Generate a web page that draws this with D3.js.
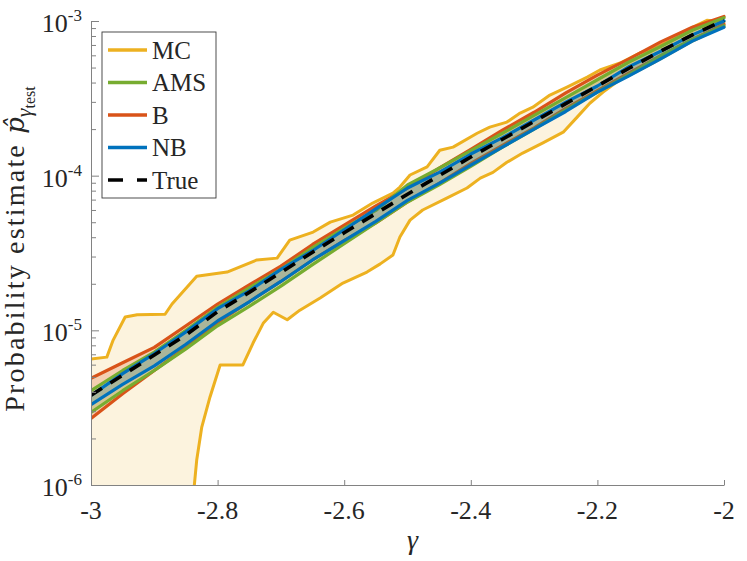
<!DOCTYPE html>
<html>
<head>
<meta charset="utf-8">
<script src="https://cdn.jsdelivr.net/npm/d3@7"></script>
<style>
body { margin: 0; background: #fff; }
</style>
</head>
<body>
<svg id="chart" width="747" height="561"></svg>
<script>
// gamma grid shared by the true curve and the AMS / B / NB bands
const gammaGrid = [-3.00, -2.95, -2.90, -2.85, -2.80, -2.75, -2.70, -2.65, -2.60, -2.55, -2.50,
                   -2.45, -2.40, -2.35, -2.30, -2.25, -2.20, -2.15, -2.10, -2.05, -2.00];

const trueP = [3.80e-6, 5.13e-6, 6.92e-6, 9.33e-6, 1.32e-5, 1.76e-5, 2.37e-5, 3.20e-5, 4.27e-5, 5.69e-5, 7.59e-5,
               1.00e-4, 1.32e-4, 1.72e-4, 2.24e-4, 2.92e-4, 3.80e-4, 4.95e-4, 6.38e-4, 8.13e-4, 1.01e-3];

const bUpper = [4.90e-6, 6.17e-6, 7.76e-6, 1.07e-5, 1.48e-5, 1.97e-5, 2.60e-5, 3.59e-5, 4.79e-5, 6.38e-5, 8.32e-5,
                1.12e-4, 1.48e-4, 1.97e-4, 2.57e-4, 3.43e-4, 4.47e-4, 5.69e-4, 7.33e-4, 9.12e-4, 1.07e-3];
const bLower = [2.69e-6, 3.89e-6, 5.50e-6, 7.76e-6, 1.12e-5, 1.53e-5, 2.07e-5, 2.85e-5, 3.80e-5, 4.95e-5, 6.76e-5,
                8.91e-5, 1.20e-4, 1.57e-4, 2.04e-4, 2.72e-4, 3.55e-4, 4.62e-4, 5.96e-4, 7.59e-4, 9.55e-4];

const amsUpper = [4.07e-6, 5.50e-6, 7.24e-6, 1.00e-5, 1.41e-5, 1.88e-5, 2.48e-5, 3.43e-5, 4.57e-5, 5.96e-5, 8.71e-5,
                  1.12e-4, 1.45e-4, 1.88e-4, 2.45e-4, 3.20e-4, 4.17e-4, 5.43e-4, 6.84e-4, 8.71e-4, 1.05e-3];
const amsLower = [2.95e-6, 4.07e-6, 5.50e-6, 7.59e-6, 1.07e-5, 1.43e-5, 1.93e-5, 2.66e-5, 3.63e-5, 4.95e-5, 6.76e-5,
                  8.71e-5, 1.15e-4, 1.53e-4, 2.00e-4, 2.66e-4, 3.47e-4, 4.52e-4, 5.96e-4, 7.59e-4, 9.33e-4];

const nbUpper = [3.80e-6, 5.25e-6, 7.08e-6, 9.77e-6, 1.38e-5, 1.80e-5, 2.48e-5, 3.27e-5, 4.47e-5, 6.10e-5, 8.32e-5,
                 1.05e-4, 1.38e-4, 1.76e-4, 2.29e-4, 2.99e-4, 3.80e-4, 5.07e-4, 6.38e-4, 8.13e-4, 1.00e-3];
const nbLower = [3.31e-6, 4.47e-6, 5.89e-6, 8.13e-6, 1.15e-5, 1.53e-5, 2.07e-5, 2.85e-5, 3.80e-5, 5.07e-5, 6.92e-5,
                 8.91e-5, 1.17e-4, 1.53e-4, 2.00e-4, 2.60e-4, 3.47e-4, 4.42e-4, 5.69e-4, 7.41e-4, 9.12e-4];

// MC envelope is much rougher, own gamma points
const mcUpperGamma = [-3.000, -2.975, -2.965, -2.946, -2.927, -2.883, -2.872, -2.833, -2.785, -2.738, -2.706,
                      -2.686, -2.649, -2.622, -2.586, -2.555, -2.523, -2.512, -2.496, -2.469, -2.449, -2.428,
                      -2.390, -2.370, -2.343, -2.322, -2.302, -2.275, -2.248, -2.216, -2.196, -2.164, -2.133,
                      -2.106, -2.074, -2.049, -2.027, -2.000];
const mcUpper = [6.52e-6, 6.71e-6, 8.65e-6, 1.22e-5, 1.26e-5, 1.27e-5, 1.48e-5, 2.24e-5, 2.38e-5, 2.85e-5, 2.93e-5,
                 3.83e-5, 4.32e-5, 5.01e-5, 5.56e-5, 6.65e-5, 7.72e-5, 8.44e-5, 1.01e-4, 1.14e-4, 1.46e-4, 1.53e-4,
                 1.88e-4, 2.06e-4, 2.22e-4, 2.54e-4, 2.77e-4, 3.32e-4, 3.74e-4, 4.34e-4, 4.82e-4, 5.35e-4, 6.21e-4,
                 6.78e-4, 7.87e-4, 9.14e-4, 1.01e-3, 9.84e-4];

// zero estimates (no hits) on the left
const mcLowerGamma = [-3.000, -2.845, -2.839, -2.833, -2.825, -2.812, -2.796, -2.760, -2.744, -2.728, -2.712,
                      -2.690, -2.670, -2.638, -2.602, -2.564, -2.543, -2.523, -2.512, -2.496, -2.476, -2.438,
                      -2.406, -2.385, -2.365, -2.343, -2.318, -2.286, -2.254, -2.232, -2.212, -2.191, -2.169,
                      -2.148, -2.112, -2.081, -2.049, -2.017, -2.000];
const mcLower = [0, 0, 8.0e-7, 1.45e-6, 2.37e-6, 3.71e-6, 5.97e-6, 5.97e-6, 8.28e-6, 1.11e-5, 1.31e-5,
                 1.17e-5, 1.35e-5, 1.62e-5, 2.02e-5, 2.38e-5, 2.69e-5, 3.07e-5, 4.01e-5, 5.16e-5, 6.00e-5, 7.16e-5,
                 8.32e-5, 9.64e-5, 1.05e-4, 1.22e-4, 1.40e-4, 1.63e-4, 1.91e-4, 2.39e-4, 2.94e-4, 3.47e-4, 4.05e-4,
                 4.50e-4, 5.35e-4, 6.30e-4, 7.45e-4, 8.60e-4, 9.15e-4];

const xTicks = [-3, -2.8, -2.6, -2.4, -2.2, -2];
const xTickLabels = ["-3", "-2.8", "-2.6", "-2.4", "-2.2", "-2"];
const yTicks = [1e-6, 1e-5, 1e-4, 1e-3];
const yTickExps = ["-6", "-5", "-4", "-3"];

const legendNames = ["MC", "AMS", "B", "NB", "True"];
const legendColors = ["#EDB120", "#77AC30", "#D95319", "#0072BD", "#000000"];

const textColor = "#262626";
const axisColor = "#828282";
const serif = "'Liberation Serif'";

const x = d3.scaleLinear().domain([-3, -2]).range([91, 724]);
const y = d3.scaleLog().domain([1e-6, 1e-3]).range([485, 21]);

const svg = d3.select("#chart");

svg.append("defs").append("clipPath").attr("id", "plotClip")
	.append("rect")
	.attr("x", x.range()[0])
	.attr("y", y.range()[1] - 8)
	.attr("width", x.range()[1] - x.range()[0] + 12)
	.attr("height", y.range()[0] - y.range()[1] + 8);

const plot = svg.append("g").attr("clip-path", "url(#plotClip)");

// y position, zero estimates pushed below the axis
function yPos(v) {
	return v > 0 ? y(v) : y.range()[0] + 20;
}

function drawBand(gUp, vUp, gLo, vLo, color, alpha, width) {
	let up = gUp.map((g, i) => [g, vUp[i]]);
	let lo = gLo.map((g, i) => [g, vLo[i]]);

	let poly = up.concat(lo.slice().reverse()).map(d => [x(d[0]), yPos(d[1])]);
	plot.append("path")
		.attr("d", d3.line()(poly) + "Z")
		.style("fill", color)
		.style("fill-opacity", alpha)
		.style("stroke", "none");

	let line = d3.line()
		.defined(d => d[1] > 0)
		.x(d => x(d[0]))
		.y(d => y(d[1]));

	[up, lo].forEach((pts) => {
		plot.append("path")
			.attr("d", line(pts))
			.style("fill", "none")
			.style("stroke", color)
			.style("stroke-width", width)
			.style("stroke-linejoin", "round")
			.style("stroke-linecap", "round");
	});
}

drawBand(mcUpperGamma, mcUpper, mcLowerGamma, mcLower, "#EDB120", 0.15, 3);
drawBand(gammaGrid, bUpper, gammaGrid, bLower, "#D95319", 0.22, 3.2);
drawBand(gammaGrid, amsUpper, gammaGrid, amsLower, "#77AC30", 0.25, 3.2);
drawBand(gammaGrid, nbUpper, gammaGrid, nbLower, "#0072BD", 0.2, 3.2);

// true probability
plot.append("path")
	.datum(gammaGrid.map((g, i) => [g, trueP[i]]))
	.attr("d", d3.line().x(d => x(d[0])).y(d => y(d[1])))
	.style("fill", "none")
	.style("stroke", "#000")
	.style("stroke-width", 3.6)
	.style("stroke-dasharray", "13,10");

// axes, ticks inside like matlab
let xAxis = svg.append("g")
	.attr("transform", "translate(0," + y.range()[0] + ")")
	.call(d3.axisTop(x).tickValues(xTicks).tickSizeInner(5).tickSizeOuter(0).tickFormat(""));

let yAxis = svg.append("g")
	.attr("transform", "translate(" + x.range()[0] + ",0)")
	.call(d3.axisRight(y).tickValues(yTicks).tickSizeInner(8).tickSizeOuter(0).tickFormat(""));

let minorTicks = [];
yTicks.slice(0, -1).forEach((t) => {
	for (let k = 2; k <= 9; k++)
		minorTicks.push(t * k);
});
let yMinor = svg.append("g")
	.attr("transform", "translate(" + x.range()[0] + ",0)")
	.call(d3.axisRight(y).tickValues(minorTicks).tickSizeInner(5).tickSizeOuter(0).tickFormat(""));
yMinor.select(".domain").remove();

[xAxis, yAxis, yMinor].forEach((g) => {
	g.selectAll("path, line").style("stroke", axisColor).style("stroke-width", 1);
});

// tick labels
svg.append("g").selectAll("text")
	.data(xTicks)
	.join("text")
	.attr("x", d => x(d))
	.attr("y", y.range()[0] + 34)
	.attr("text-anchor", "middle")
	.style("font-family", serif)
	.style("font-size", "26px")
	.style("fill", textColor)
	.text((d, i) => xTickLabels[i]);

let yLabels = svg.append("g").selectAll("text")
	.data(yTicks)
	.join("text")
	.attr("x", x.range()[0] - 9)
	.attr("y", d => y(d) + 11)
	.attr("text-anchor", "end")
	.style("font-family", serif)
	.style("font-size", "26px")
	.style("fill", textColor);
yLabels.append("tspan").text("10");
yLabels.append("tspan")
	.attr("dy", -11)
	.style("font-size", "17px")
	.text((d, i) => yTickExps[i]);

// axis titles
svg.append("text")
	.attr("x", x(-2.5) + 5)
	.attr("y", 549)
	.attr("text-anchor", "middle")
	.style("font-family", serif)
	.style("font-size", "28px")
	.style("font-style", "italic")
	.style("fill", textColor)
	.text("γ");

let ylab = svg.append("text")
	.attr("transform", "translate(24,249) rotate(-90)")
	.attr("text-anchor", "middle")
	.style("font-family", serif)
	.style("font-size", "28px")
	.style("fill", textColor);
ylab.append("tspan").style("letter-spacing", "2.2px").text("Probability estimate ");
ylab.append("tspan").style("font-style", "italic").style("font-family", "'DejaVu Serif'").style("font-size", "26px").text("p\u0302");
ylab.append("tspan").attr("dy", 7).style("font-style", "italic").style("font-size", "22px").text("γ");
ylab.append("tspan").attr("dy", 4).style("font-size", "16px").text("test");

// legend
let legend = svg.append("g");
legend.append("rect")
	.attr("x", 102)
	.attr("y", 32)
	.attr("width", 114)
	.attr("height", 166)
	.style("fill", "#fff")
	.style("stroke", "#3a3a3a")
	.style("stroke-width", 0.9);

legendNames.forEach((name, i) => {
	let cy = 50 + i * 32.5;
	legend.append("line")
		.attr("x1", 108)
		.attr("x2", 147)
		.attr("y1", cy)
		.attr("y2", cy)
		.style("stroke", legendColors[i])
		.style("stroke-width", 3.4)
		.style("stroke-dasharray", name == "True" ? "15,14" : null);
	legend.append("text")
		.attr("x", 152)
		.attr("y", cy + 8.5)
		.style("font-family", serif)
		.style("font-size", "25px")
		.style("fill", textColor)
		.text(name);
});
</script>
</body>
</html>
